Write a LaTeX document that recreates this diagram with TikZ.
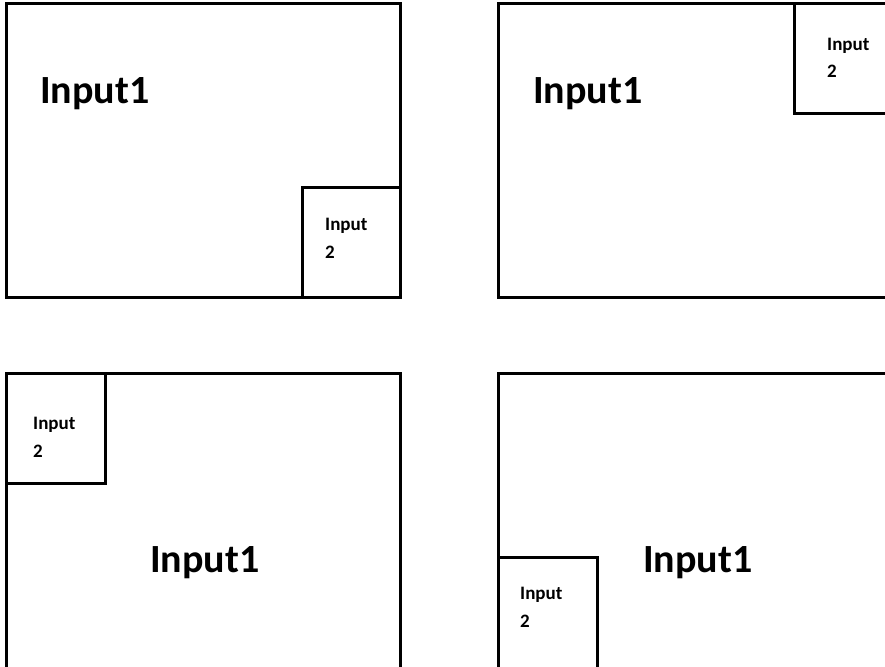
\documentclass[tikz,border=0pt]{standalone}
\usepackage{fontspec}
\setmainfont{Carlito}
\begin{document}
\begin{tikzpicture}[x=1pt,y=-1pt,
  frame/.style={draw=black,line width=3pt},
  bigtxt/.style={anchor=base west,inner sep=0pt,font=\fontsize{40}{48}\selectfont\bfseries},
  smalltxt/.style={anchor=base west,inner sep=0pt,align=left,
    font=\fontsize{19}{28}\selectfont\bfseries}]
\useasboundingbox (0,0) rectangle (885,666);
\clip (0,0) rectangle (885,666);
% top left: small input in the lower right corner
\draw[frame] (6,4) rectangle (400,297);
\draw[frame] (302,187) rectangle (400,297);
\node[bigtxt] (a1) at (40,103) {Input1};
\node[smalltxt] (a2) at (325,258) {Input\\2};
% top right: small input in the upper right corner
\draw[frame] (498,4) rectangle (892,297);
\draw[frame] (794,4) rectangle (892,114);
\node[bigtxt] (b1) at (533,103) {Input1};
\node[smalltxt] (b2) at (827,78) {Input\\2};
% bottom left: small input in the upper left corner
\draw[frame] (6,373) rectangle (400,670);
\draw[frame] (6,373) rectangle (105,483);
\node[bigtxt] (c1) at (150,572) {Input1};
\node[smalltxt] (c2) at (33,457) {Input\\2};
% bottom right: small input in the lower left corner
\draw[frame] (498,373) rectangle (892,670);
\draw[frame] (498,557) rectangle (597,670);
\node[bigtxt] (d1) at (643,572) {Input1};
\node[smalltxt] (d2) at (520,627) {Input\\2};
\end{tikzpicture}
\end{document}
